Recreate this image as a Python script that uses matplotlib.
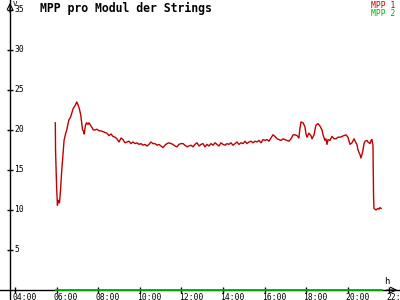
import matplotlib
matplotlib.use("Agg")
import matplotlib.pyplot as plt

# MPP 1 (Stunden, Volt)
hours_1 = [
    5.94, 5.95, 6.00, 6.04, 6.09, 6.14, 6.19, 6.25, 6.31, 6.36, 6.43, 6.49,
    6.55, 6.60, 6.67, 6.73, 6.80, 6.88, 6.97, 7.04, 7.10, 7.16, 7.21, 7.25,
    7.29, 7.33, 7.39, 7.44, 7.51, 7.56, 7.63, 7.70, 7.77, 7.85,
    7.94, 8.04, 8.13, 8.23, 8.33, 8.42, 8.52, 8.62, 8.71, 8.81, 8.90, 9.00,
    9.10, 9.19, 9.29, 9.38, 9.48, 9.58, 9.67, 9.77, 9.87, 9.96, 10.06, 10.15,
    10.25, 10.35, 10.44, 10.54, 10.63, 10.73, 10.83, 10.92, 11.02, 11.12,
    11.21, 11.31, 11.40, 11.50, 11.60, 11.69, 11.79, 11.88, 11.98, 12.08,
    12.17, 12.27, 12.37, 12.46, 12.56, 12.65, 12.75, 12.85, 12.94, 13.04,
    13.13, 13.23, 13.33, 13.42, 13.52, 13.62, 13.71, 13.81, 13.90, 14.00,
    14.10, 14.19, 14.29, 14.38, 14.48, 14.58, 14.67, 14.77, 14.87, 14.96,
    15.06, 15.15, 15.25, 15.35, 15.44, 15.54, 15.63, 15.73, 15.83, 15.92,
    16.02, 16.12, 16.21, 16.31, 16.40, 16.50, 16.60, 16.69, 16.79, 16.88,
    16.98, 17.08, 17.17, 17.27, 17.37, 17.46, 17.56, 17.65, 17.70, 17.75,
    17.85, 17.94, 17.99, 18.04, 18.13, 18.23, 18.28, 18.38, 18.42, 18.47,
    18.57, 18.66, 18.76, 18.81, 18.86, 18.90, 18.95, 19.00, 19.05, 19.14,
    19.24, 19.34, 19.43, 19.53, 19.63, 19.72, 19.82, 19.91, 20.01, 20.06,
    20.11, 20.20, 20.30, 20.39, 20.44, 20.49, 20.59, 20.63, 20.68, 20.73,
    20.78, 20.83, 20.92, 20.97, 21.07, 21.12, 21.16, 21.21, 21.24, 21.26,
    21.31, 21.36, 21.40, 21.45, 21.50, 21.55, 21.60,
]
volts_1 = [
    20.9, 17.5, 13.0, 10.6, 11.2, 10.9, 12.5, 15.0, 17.0, 18.7, 19.5, 20.0,
    20.8, 21.3, 21.6, 22.1, 22.7, 23.0, 23.5, 23.1, 22.6, 21.9, 20.8, 20.0,
    19.9, 19.5, 20.6, 20.9, 20.7, 20.9, 20.6, 20.3, 20.0, 20.0,
    20.1, 19.9, 19.9, 19.8, 19.7, 19.6, 19.3, 19.5, 19.2, 19.1, 18.9, 18.5,
    19.0, 18.8, 18.4, 18.5, 18.6, 18.3, 18.5, 18.3, 18.4, 18.2, 18.3, 18.1,
    18.2, 18.0, 18.2, 18.5, 18.3, 18.3, 18.1, 18.2, 18.0, 17.8,
    18.1, 18.3, 18.4, 18.3, 18.2, 18.0, 17.9, 18.2, 18.3, 18.3,
    18.1, 17.9, 18.0, 18.1, 17.9, 18.2, 18.4, 18.0, 18.2, 18.3,
    17.9, 18.2, 18.0, 18.3, 18.1, 18.4, 18.2, 18.0, 18.4, 18.2,
    18.1, 18.3, 18.2, 18.4, 18.1, 18.3, 18.5, 18.2, 18.4, 18.3,
    18.6, 18.3, 18.5, 18.6, 18.4, 18.6, 18.5, 18.7, 18.4, 18.8,
    18.7, 18.8, 18.6, 19.0, 19.4, 19.2, 18.9, 18.8, 18.7, 18.9,
    18.8, 18.7, 18.6, 18.9, 19.4, 19.4, 19.3, 19.0, 20.2, 21.0,
    20.9, 20.4, 19.5, 19.1, 19.6, 19.3, 18.9, 19.4, 20.0, 20.6,
    20.8, 20.5, 20.0, 19.4, 19.0, 18.7, 18.9, 18.2, 18.8, 18.7,
    19.2, 18.9, 18.9, 19.1, 19.1, 19.2, 19.3, 19.4, 19.1, 18.6,
    18.2, 18.4, 18.9, 18.4, 18.2, 17.5, 16.9, 16.5, 16.9, 17.5,
    18.3, 18.6, 18.7, 18.5, 18.3, 18.7, 18.8, 18.1, 11.5, 10.2,
    10.1, 10.0, 10.1, 10.2, 10.1, 10.3, 10.2,
]

# MPP 2 liegt den ganzen Tag bei 0
hours_2 = [5.97, 21.64]
volts_2 = [0, 0]

x_ticks = [4, 6, 8, 10, 12, 14, 16, 18, 20, 22]
x_labels = ["04:00", "06:00", "08:00", "10:00", "12:00", "14:00",
            "16:00", "18:00", "20:00", "22:00"]
y_ticks = [5, 10, 15, 20, 25, 30, 35]

red = "#c00000"
green = "#00b400"
mono = "DejaVu Sans Mono"

fig = plt.figure(figsize=(4, 3), dpi=100)
ax = fig.add_axes([0, 0, 1, 1])
ax.set_xlim(3.28, 22.51)
ax.set_ylim(-1.25, 36.25)
ax.axis("off")

x0 = 3.76  # Lage der V-Achse
ax.axhline(0, color="black", lw=1.0, zorder=1)
ax.axvline(x0, color="black", lw=1.0, zorder=1)

# Pfeile an den Achsenenden
ax.annotate("", xy=(x0, 1.0), xycoords=("data", "axes fraction"),
            xytext=(x0, 0.95), textcoords=("data", "axes fraction"),
            arrowprops=dict(arrowstyle="->", lw=0.8, color="black"))
ax.annotate("", xy=(1.0, 0), xycoords=("axes fraction", "data"),
            xytext=(0.96, 0), textcoords=("axes fraction", "data"),
            arrowprops=dict(arrowstyle="->", lw=0.8, color="black"))

for v in y_ticks:
    ax.plot([x0], [v], marker="_", ms=4.5, mew=1.0, color="black")
    ax.annotate(str(v), (x0, v), xytext=(3, 0), textcoords="offset points",
                va="center", ha="left", fontsize=5.8, family=mono)
for t, lab in zip(x_ticks, x_labels):
    ax.plot([t], [0], marker="|", ms=4.5, mew=1.0, color="black")
    ax.annotate(lab, (t, 0), xytext=(-2, -2.5), textcoords="offset points",
                va="top", ha="left", fontsize=5.8, family=mono)

ax.plot(hours_2, volts_2, color=green, lw=1.3, zorder=3)
ax.plot(hours_1, volts_1, color=red, lw=1.0, zorder=4)

fig.text(13 / 400, 1 - 1 / 300, "V", fontsize=5.3, family=mono, va="top")
fig.text(384 / 400, 1 - 282 / 300, "h", fontsize=6.5, family=mono, va="center")
fig.text(40 / 400, 1 - 8 / 300, "MPP pro Modul der Strings", fontsize=8.3,
         family=mono, weight="bold", va="center")
fig.text(395 / 400, 1 - 5 / 300, "MPP 1", fontsize=5.8, family=mono,
         color=red, ha="right", va="center")
fig.text(395 / 400, 1 - 13 / 300, "MPP 2", fontsize=5.8, family=mono,
         color=green, ha="right", va="center")

fig.savefig("out.png", dpi=100)
